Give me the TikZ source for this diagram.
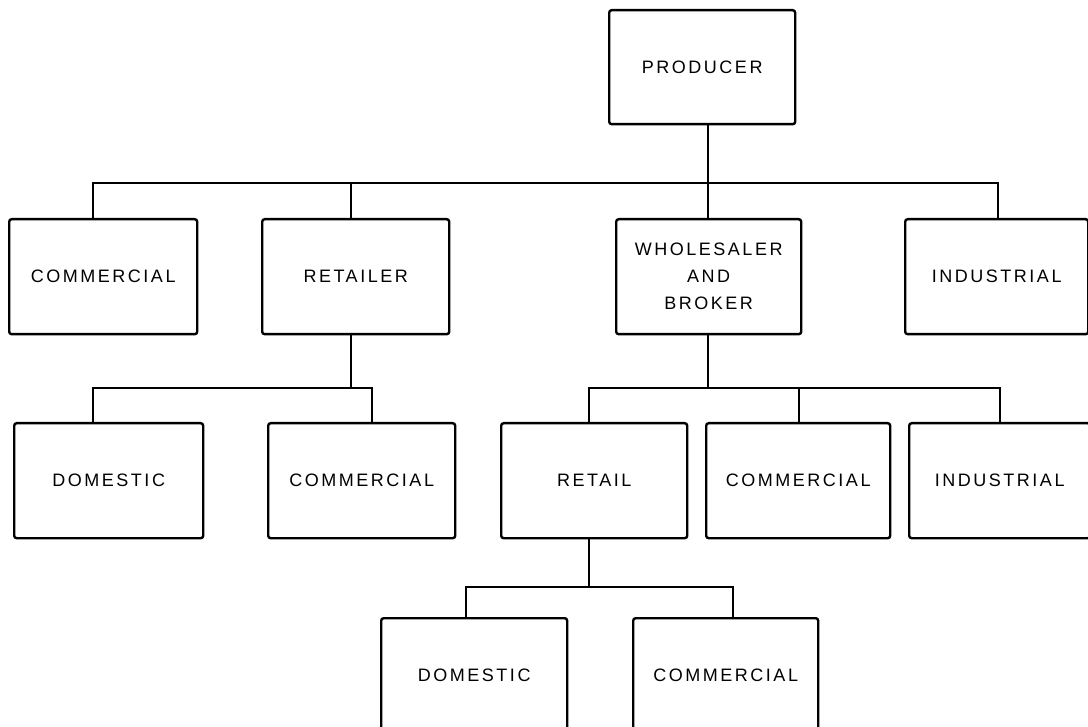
\documentclass[tikz,border=0pt]{standalone}
\usepackage{fontspec}
\newfontfamily\boxfont[LetterSpace=14]{Liberation Sans}
\begin{document}
\begin{tikzpicture}[x=1pt,y=-1pt,
  box/.style={draw, line width=2.4pt, rounded corners=2.5pt, inner sep=0pt,
    anchor=north west, align=center, minimum height=115pt,
    font=\boxfont\fontsize{18}{27}\selectfont},
  link/.style={line width=1.9pt}]
\useasboundingbox (0,0) rectangle (1088,727);
\clip (0,0) rectangle (1088,727);

% level 1
\node[box, minimum width=186pt, minimum height=114pt] (prod) at (608,9) {PRODUCER};

% level 2
\node[box, minimum width=188pt] (comm1) at (8,218) {COMMERCIAL};
\node[box, minimum width=187pt] (ret1) at (261,218) {RETAILER};
\node[box, minimum width=185pt] (whole) at (615,218) {WHOLESALER\\AND\\BROKER};
\node[box, minimum width=183pt] (ind1) at (904,218) {INDUSTRIAL};

% level 3
\node[box, minimum width=189pt] (dom1) at (13,422) {DOMESTIC};
\node[box, minimum width=187pt] (comm2) at (267,422) {COMMERCIAL};
\node[box, minimum width=186pt] (retail) at (500,422) {RETAIL};
\node[box, minimum width=184pt] (comm3) at (705,422) {COMMERCIAL};
\node[box, minimum width=181pt] (ind2) at (908,422) {INDUSTRIAL};

% level 4
\node[box, minimum width=186pt] (dom2) at (380,617) {DOMESTIC};
\node[box, minimum width=185pt] (comm4) at (632,617) {COMMERCIAL};

% bus junctions
\coordinate (c1) at (93,183);
\coordinate (c2) at (351,183);
\coordinate (c3) at (708,183);
\coordinate (c4) at (998,183);
\coordinate (d1) at (93,388);
\coordinate (d2) at (351,388);
\coordinate (d3) at (372,388);
\coordinate (e1) at (589,388);
\coordinate (e2) at (708,388);
\coordinate (e3) at (799,388);
\coordinate (e4) at (1000,388);
\coordinate (f1) at (466,587);
\coordinate (f2) at (589,587);
\coordinate (f3) at (733,587);

% producer to level 2
\draw[link] (c1 |- comm1.north) -- (c1) -- (c4) -- (c4 |- ind1.north);
\draw[link] (c2) -- (c2 |- ret1.north);
\draw[link] (c3 |- prod.south) -- (c3 |- whole.north);

% retailer branch
\draw[link] (d2 |- ret1.south) -- (d2);
\draw[link] (d1 |- dom1.north) -- (d1) -- (d3) -- (d3 |- comm2.north);

% wholesaler branch
\draw[link] (e2 |- whole.south) -- (e2);
\draw[link] (e1 |- retail.north) -- (e1) -- (e4) -- (e4 |- ind2.north);
\draw[link] (e3) -- (e3 |- comm3.north);

% retail branch
\draw[link] (f2 |- retail.south) -- (f2);
\draw[link] (f1 |- dom2.north) -- (f1) -- (f3) -- (f3 |- comm4.north);
\end{tikzpicture}
\end{document}
